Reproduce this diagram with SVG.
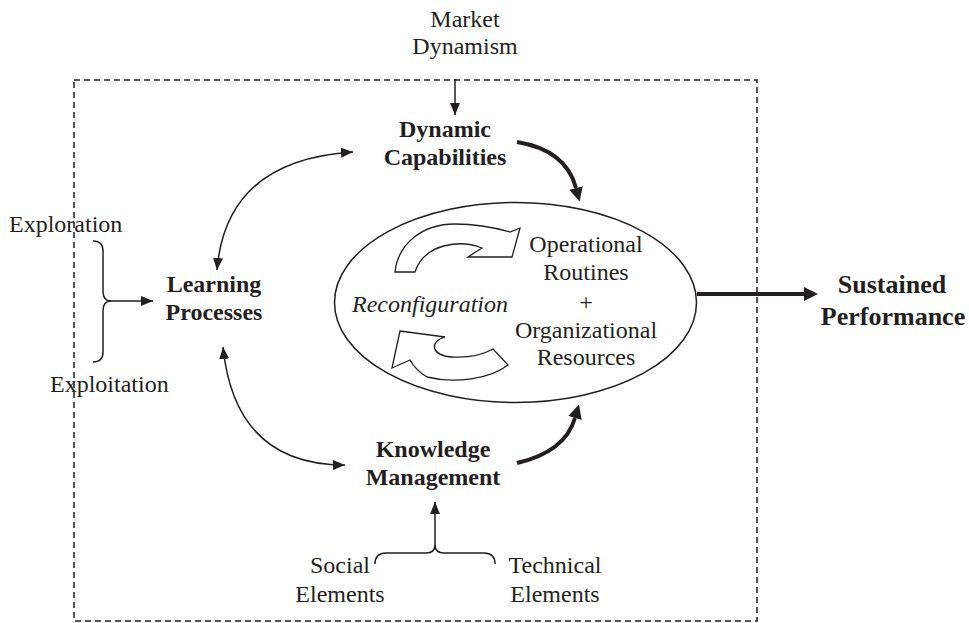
<svg xmlns="http://www.w3.org/2000/svg" width="969" height="623" viewBox="0 0 969 623">
<style>
text{font-family:"Liberation Serif","Times New Roman",serif;font-size:24px;fill:#231f20}
.b{font-weight:bold}
.i{font-style:italic}
.m{text-anchor:middle}
.thin{fill:none;stroke:#231f20;stroke-width:1.5}
.thick{fill:none;stroke:#231f20;stroke-width:4}
.dash{fill:none;stroke:#231f20;stroke-width:1.5;stroke-dasharray:6,4}
.blk{fill:#fff;stroke:#231f20;stroke-width:1.3;stroke-linejoin:miter}
</style>
<defs>
<marker id="ah" markerUnits="userSpaceOnUse" markerWidth="14" markerHeight="12" refX="12" refY="5" orient="auto-start-reverse" viewBox="0 0 14 12">
<path d="M0,0 L12,5 L0,10 Z" fill="#231f20"/>
</marker>
<marker id="ahk" markerUnits="userSpaceOnUse" markerWidth="16" markerHeight="16" refX="0" refY="7" orient="auto" viewBox="0 0 16 16">
<path d="M0,0 L14,7 L0,14 Z" fill="#231f20"/>
</marker>
</defs>

<rect class="dash" x="74" y="80" width="683" height="541"/>

<g id="connectors">
<path class="thin" d="M455,79 L455,115" marker-end="url(#ah)"/>
<path class="thin" d="M217,270 Q226,160 353,152" marker-start="url(#ah)" marker-end="url(#ah)"/>
<path class="thin" d="M223,347 Q235,465 345,465" marker-start="url(#ah)" marker-end="url(#ah)"/>
<path class="thin" d="M93,241 Q103,241 103,251 L103,291 Q103,301 111,301 Q103,301 103,311 L103,352 Q103,362 93,362"/>
<path class="thin" d="M110,301 L153,301" marker-end="url(#ah)"/>
<path class="thin" d="M375,564 Q375,553 386,553 L426,553 Q435,553 435,545 Q435,553 444,553 L484,553 Q495,553 495,564"/>
<path class="thin" d="M435,546 L435,502" marker-end="url(#ah)"/>
<path class="thick" d="M517,142 Q566,150 576,188" marker-end="url(#ahk)"/>
<path class="thick" d="M517,463 Q565,452 575,418" marker-end="url(#ahk)"/>
<path class="thick" d="M697,294 L804,294" marker-end="url(#ahk)"/>
</g>

<g id="market">
<text class="m" x="465" y="27">Market</text>
<text class="m" x="465" y="54">Dynamism</text>
</g>

<g id="dynamic-capabilities">
<text class="m b" x="445" y="137">Dynamic</text>
<text class="m b" x="445" y="165">Capabilities</text>
</g>

<g id="learning-processes">
<text class="m b" x="214" y="292">Learning</text>
<text class="m b" x="214" y="320">Processes</text>
</g>

<g id="exploration">
<text x="9" y="232">Exploration</text>
</g>
<g id="exploitation">
<text x="50" y="392">Exploitation</text>
</g>

<g id="knowledge-management">
<text class="m b" x="433" y="457">Knowledge</text>
<text class="m b" x="433" y="485">Management</text>
</g>

<g id="social">
<text class="m" x="340" y="573">Social</text>
<text class="m" x="340" y="602">Elements</text>
</g>
<g id="technical">
<text class="m" x="555" y="573">Technical</text>
<text class="m" x="555" y="602">Elements</text>
</g>

<g id="operational">
<ellipse class="thin" cx="515.5" cy="302.5" rx="181" ry="100"/>
<path class="blk" d="M395,272 C398,244 422,224 455,224 C478,224 496,228 510,232 L520,228 L512,257 L468,257 L482,248 C462,240 425,242 415,272 Z"/>
<path class="blk" d="M400,331 L445,337 C428,342 432,356 452,357 C470,358 484,354 493,349 L508,365 C490,379 455,384 427,377 C420,373 414,367 410,360 L392,368 Z"/>
<text class="i" x="430" y="312" text-anchor="middle">Reconfiguration</text>
<text class="m" x="586" y="252">Operational</text>
<text class="m" x="586" y="280">Routines</text>
<text class="m" x="586" y="310">+</text>
<text class="m" x="586" y="338">Organizational</text>
<text class="m" x="586" y="365">Resources</text>
</g>

<g id="sustained-performance">
<text class="m b" x="892" y="293" style="font-size:26px">Sustained</text>
<text class="m b" x="893" y="325" style="font-size:26px">Performance</text>
</g>
</svg>
